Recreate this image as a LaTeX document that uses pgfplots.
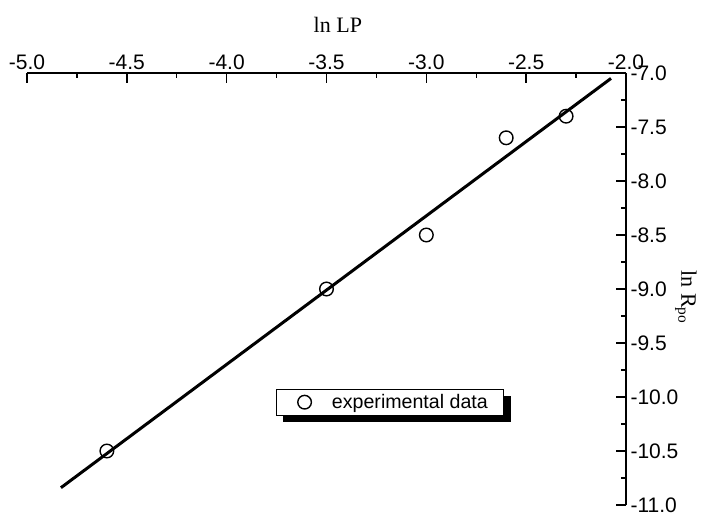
\documentclass[border=0pt]{standalone}
\usepackage{fontspec}
\setmainfont{Liberation Sans}
\newfontfamily\timesf{Liberation Serif}
\usepackage{pgfplots}
\pgfplotsset{compat=1.18}
\usetikzlibrary{shadows}

\begin{document}
\begin{tikzpicture}
  \begin{axis}[
      scale only axis,
      width=599pt, height=432pt,
      xmin=-5, xmax=-2, ymin=-11, ymax=-7,
      axis x line*=top, axis y line*=right,
      axis line style={-, line width=1.6pt},
      tick align=inside,
      xtick={-5,-4.5,...,-2}, ytick={-11,-10.5,...,-7},
      minor x tick num=1, minor y tick num=1,
      major tick length=10pt, minor tick length=5pt,
      tick style={line width=1.4pt, black},
      tick label style={font=\fontsize{21}{24}\selectfont},
      /pgf/number format/assume math mode=true,
      /pgf/number format/.cd, fixed, fixed zerofill, precision=1,
      /pgfplots/.cd,
      xticklabel style={yshift=0pt},
      yticklabel style={xshift=1pt},
      xlabel={\timesf\fontsize{22}{24}\selectfont ln LP},
      xlabel style={at={(axis description cs:0.519,1)}, anchor=center, yshift=48pt},
      ylabel={\timesf\fontsize{22}{24}\selectfont ln R\textsubscript{po}},
      ylabel style={at={(axis description cs:1.1,0.481)}, anchor=center, rotate=180},
      legend style={at={(axis description cs:0.606,0.238)}, anchor=center,
        draw=black, line width=0.8pt, fill=white,
        inner xsep=0pt, inner ysep=3pt,
        drop shadow={shadow xshift=7pt, shadow yshift=-7pt, fill=black, opacity=1},
        font=\fontsize{19.6}{22}\selectfont},
      legend image code/.code={
        \draw[#1] plot coordinates {(0pt,0pt)};
        \path (-28pt,0pt) (25pt,0pt);},
      legend cell align=left,
  ]
    \addplot[only marks, mark=o, mark size=6.8pt, mark options={line width=1.4pt, black}]
      coordinates {(-4.6,-10.5) (-3.5,-9.0) (-3.0,-8.5) (-2.6,-7.6) (-2.3,-7.4)};
    \addlegendentry{experimental data\kern14pt}
    \addplot[black, line width=3pt, forget plot]
      coordinates {(-4.83,-10.84) (-2.075,-7.05)};
  \end{axis}
  \pgfresetboundingbox
  \path (current axis.south west) ++(-27pt,-8pt) rectangle ++(704pt,513pt);
\end{tikzpicture}
\end{document}
